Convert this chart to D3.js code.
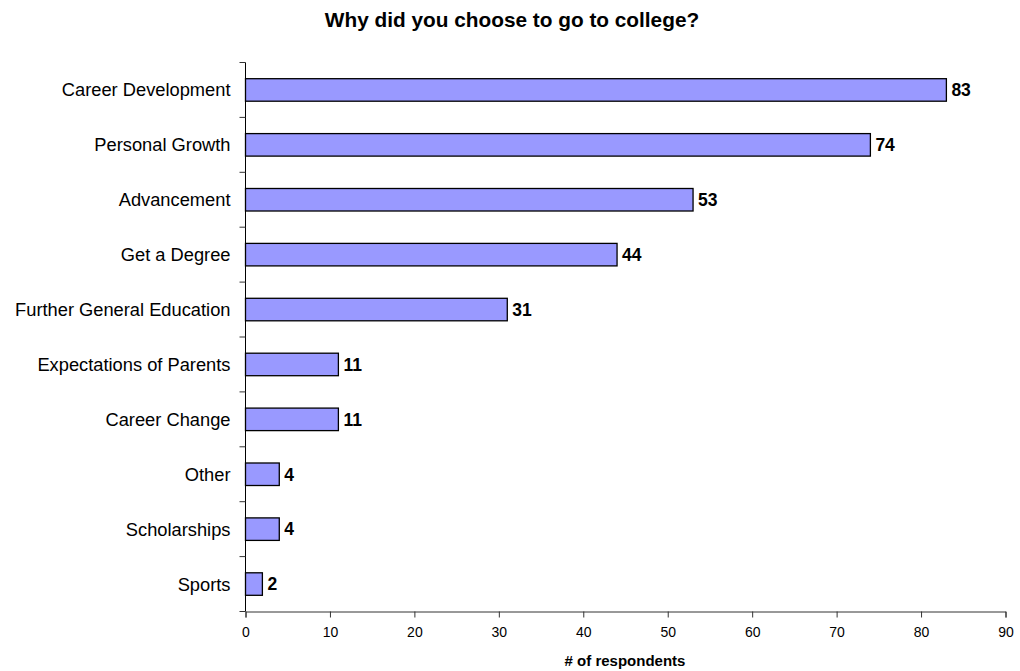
<!DOCTYPE html>
<html><head><meta charset="utf-8">
<script src="https://cdn.jsdelivr.net/npm/d3@7"></script>
<style>body{margin:0;background:#fff;} text{font-family:"Liberation Sans",Arial,sans-serif;}</style>
</head><body>
<svg id="c" width="1020" height="671"></svg>
<script>
const categories = ["Career Development","Personal Growth","Advancement","Get a Degree","Further General Education","Expectations of Parents","Career Change","Other","Scholarships","Sports"];
const values = [83,74,53,44,31,11,11,4,4,2];
const xTicks = [0,10,20,30,40,50,60,70,80,90];
const title = "Why did you choose to go to college?";
const xLabel = "# of respondents";

(function(){
const svg = d3.select("#c");
const pl = 245.5, pr = 1005.5, pt = 62.5, pb = 611.5;
const x = d3.scaleLinear().domain([0,90]).range([pl,pr]);
const y = d3.scaleBand().domain(categories).range([pt,pb]).paddingInner(0.59).paddingOuter(0.295);

svg.append("text").attr("x",512).attr("y",27).attr("text-anchor","middle")
  .style("font-weight","bold").style("font-size","20.8px").text(title);

svg.selectAll("rect.bar").data(values).enter().append("rect")
  .attr("x",x(0)).attr("y",(d,i)=>y(categories[i]))
  .attr("width",d=>x(d)-x(0)).attr("height",y.bandwidth())
  .attr("fill","#9999FF").attr("stroke","#000").attr("stroke-width",1.3);

svg.selectAll("text.val").data(values).enter().append("text")
  .attr("x",d=>x(d)+5).attr("y",(d,i)=>y(categories[i])+y.bandwidth()/2+6.3)
  .style("font-weight","bold").style("font-size","17.5px").text(d=>d);

const xa = svg.append("g").attr("transform",`translate(0,${pb})`)
  .call(d3.axisBottom(x).tickValues(xTicks).tickSize(6).tickPadding(10));
xa.select(".domain").attr("stroke","#333");
xa.selectAll(".tick line").attr("stroke","#333");
xa.selectAll("text").style("font-size","14px").style("font-family","'Liberation Sans',Arial,sans-serif").attr("fill","#000");

const ya = svg.append("g").attr("transform",`translate(${pl},0)`);
ya.append("line").attr("x1",0).attr("x2",0).attr("y1",pt).attr("y2",pb).attr("stroke","#000");
const step = (pb-pt)/categories.length;
ya.selectAll("line.t").data(d3.range(categories.length+1)).enter().append("line")
  .attr("x1",-6).attr("x2",0).attr("y1",i=>pt+i*step).attr("y2",i=>pt+i*step).attr("stroke","#333");
ya.selectAll("text.cat").data(categories).enter().append("text")
  .attr("x",-15).attr("y",d=>y(d)+y.bandwidth()/2+6.5).attr("text-anchor","end")
  .style("font-size","18.3px").text(d=>d);

svg.append("text").attr("x",625).attr("y",666).attr("text-anchor","middle")
  .style("font-weight","bold").style("font-size","15px").text(xLabel);
})();
</script>
</body></html>
